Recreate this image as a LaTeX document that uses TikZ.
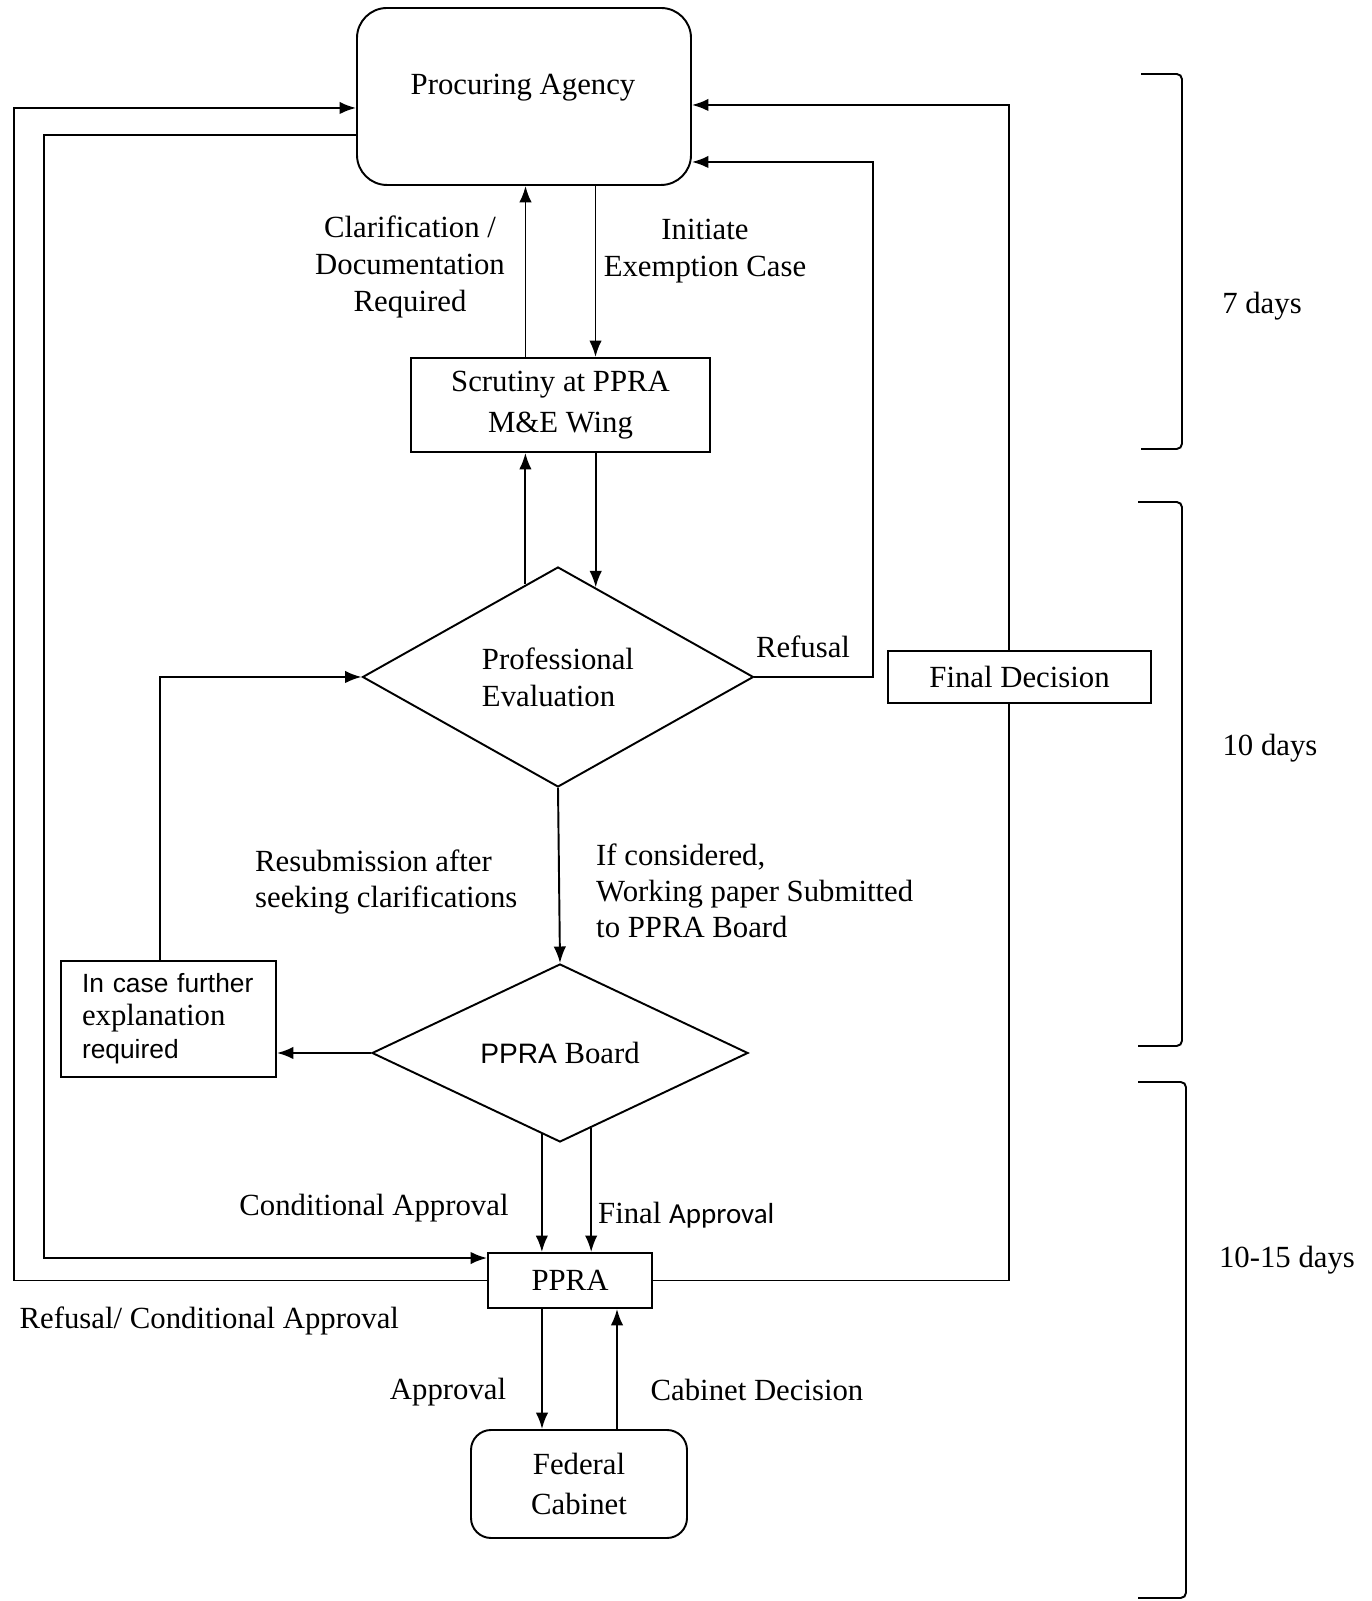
\documentclass[tikz,border=0pt]{standalone}
\usepackage{fontspec}
\setmainfont{Liberation Serif}
\newfontfamily\arialfont{Liberation Sans}
\newfontfamily\calibrifont{Carlito}
\usetikzlibrary{shapes.geometric, arrows.meta, calc}

\tikzset{
  flow/.style = {line width=1.1pt, -{Latex[length=3.3mm, width=2.5mm]}},
  roundbox/.style = {draw, line width=1.1pt, rounded corners=0.6cm, align=center},
  plainbox/.style = {draw, line width=1.1pt, align=center, fill=white},
  decision/.style = {draw, diamond, aspect=2, inner sep=0pt, line width=1.1pt},
  bracket/.style = {line width=1.1pt, rounded corners=3pt}
}

\begin{document}
\begin{tikzpicture}[font=\fontsize{17.5}{21}\selectfont]

    \useasboundingbox (0,0) rectangle (27.42,32.02);

    % Boxes
    \node[roundbox, minimum width=6.68cm, minimum height=3.54cm] (agency) at (10.48,30.09) {};
    \node (agency-txt) at (10.46,30.26) {Procuring Agency};
    \node[plainbox, minimum width=5.98cm, minimum height=1.88cm, font=\fontsize{17.5}{23}\selectfont] (scrutiny) at (11.21,23.92) {Scrutiny at PPRA\\M\&E Wing};
    \node[decision, minimum width=7.82cm, minimum height=4.4cm, align=left] (evaluation) at (11.16,18.48) {Professional\\Evaluation};
    \node[decision, minimum width=7.52cm, minimum height=3.56cm] (board) at (11.2,10.96) {{\arialfont\fontsize{16}{18}\selectfont PPRA} Board};
    \node[plainbox, minimum width=4.3cm, minimum height=2.32cm, text width=3.46cm, inner xsep=0.42cm, align=left, font=\fontsize{15}{18.7}\selectfont] (explain) at (3.37,11.64) {\hyphenpenalty=10000 \arialfont In case further\\ {\rmfamily\fontsize{17.5}{18.7}\selectfont explanation}\\ \arialfont required};
    \node[plainbox, minimum width=3.28cm, minimum height=1.1cm] (ppra) at (11.4,6.41) {PPRA};
    \node[roundbox, rounded corners=0.4cm, minimum width=4.32cm, minimum height=2.16cm, font=\fontsize{17.5}{23}\selectfont] (cabinet) at (11.58,2.34) {Federal\\Cabinet};

    % Agency and scrutiny
    \coordinate (up1) at ([xshift=-0.7cm]scrutiny.north);
    \coordinate (dn1) at ([xshift=0.7cm]scrutiny.north);
    \draw[flow] (up1) -- (up1 |- agency.south);
    \draw[flow] (dn1 |- agency.south) -- (dn1);

    % Scrutiny and evaluation
    \coordinate (up2) at ($(evaluation.north)!0.166!(evaluation.west)$);
    \coordinate (dn2) at ($(evaluation.north)!0.192!(evaluation.east)$);
    \draw[flow] (up2) -- (up2 |- scrutiny.south);
    \draw[flow] (dn2 |- scrutiny.south) -- (dn2);

    % Refusal back to agency
    \coordinate (refusal) at (17.46,28.78);
    \draw[flow] (evaluation.east) -| (refusal) -- (refusal -| agency.east);

    % Evaluation and board
    \draw[flow] (evaluation.south) -- (board.north);
    \draw[flow] (board.west) -- (explain.east |- board.west);
    \draw[flow] ([xshift=-0.17cm]explain.north) |- (evaluation.west);

    % Board to PPRA
    \coordinate (cond) at ($(board.south)!0.096!(board.west)$);
    \coordinate (final) at ($(board.south)!0.165!(board.east)$);
    \draw[flow] (cond) -- (cond |- ppra.north);
    \draw[flow] (final) -- (final |- ppra.north);

    % PPRA and cabinet
    \coordinate (appr) at ([xshift=-0.56cm]ppra.south);
    \coordinate (decn) at ([xshift=0.94cm]ppra.south);
    \draw[flow] (appr) -- (appr |- cabinet.north);
    \draw[flow] (decn |- cabinet.north) -- (decn);

    % Outer loops
    \coordinate (outer-r) at (20.18,29.92);
    \draw[flow] (ppra.east) -| (outer-r) -- (outer-r -| agency.east);
    \coordinate (outer-l) at (0.28,29.86);
    \draw[flow] (ppra.west) -| (outer-l) -- (outer-l -| agency.west);
    \coordinate (inner-l) at (0.88,29.32);
    \coordinate (ppra-in) at ([yshift=-0.12cm]ppra.north west);
    \draw[flow] (inner-l -| agency.west) -- (inner-l) |- (ppra-in);

    % Final decision box, over the right loop
    \node[plainbox, minimum width=5.26cm, minimum height=1.04cm] (fdec) at (20.39,18.48) {Final Decision};

    % Labels
    \node[align=center] (lbl-clar) at (8.2,26.68) {Clarification /\\Documentation\\Required};
    \node[align=center] (lbl-init) at (14.1,27.0) {Initiate\\Exemption Case};
    \node (lbl-ref) at (16.06,19.08) {Refusal};
    \node[anchor=west, align=left] (lbl-resub) at (4.98,14.38) {Resubmission after\\seeking clarifications};
    \node[anchor=west, align=left, font=\fontsize{17.5}{20.5}\selectfont] (lbl-cons) at (11.8,14.2) {If considered,\\Working paper Submitted\\to PPRA Board};
    \node (lbl-cond) at (7.48,7.86) {Conditional Approval};
    \node[anchor=west] (lbl-final) at (11.84,7.72) {Final {\calibrifont\fontsize{16.5}{20}\selectfont Approval}};
    \node[anchor=west] (lbl-back) at (0.27,5.6) {Refusal/ Conditional Approval};
    \node (lbl-appr) at (8.96,4.18) {Approval};
    \node (lbl-dec) at (15.14,4.22) {Cabinet Decision};

    % Time brackets
    \draw[bracket] (22.82,30.54) -- (23.64,30.54) -- (23.64,23.04) -- (22.82,23.04);
    \draw[bracket] (22.76,21.98) -- (23.64,21.98) -- (23.64,11.1) -- (22.76,11.1);
    \draw[bracket] (22.76,10.38) -- (23.72,10.38) -- (23.72,0.06) -- (22.76,0.06);
    \node (t1) at (25.24,25.9) {7 days};
    \node (t2) at (25.4,17.06) {10 days};
    \node (t3) at (25.74,6.82) {10-15 days};

\end{tikzpicture}
\end{document}
